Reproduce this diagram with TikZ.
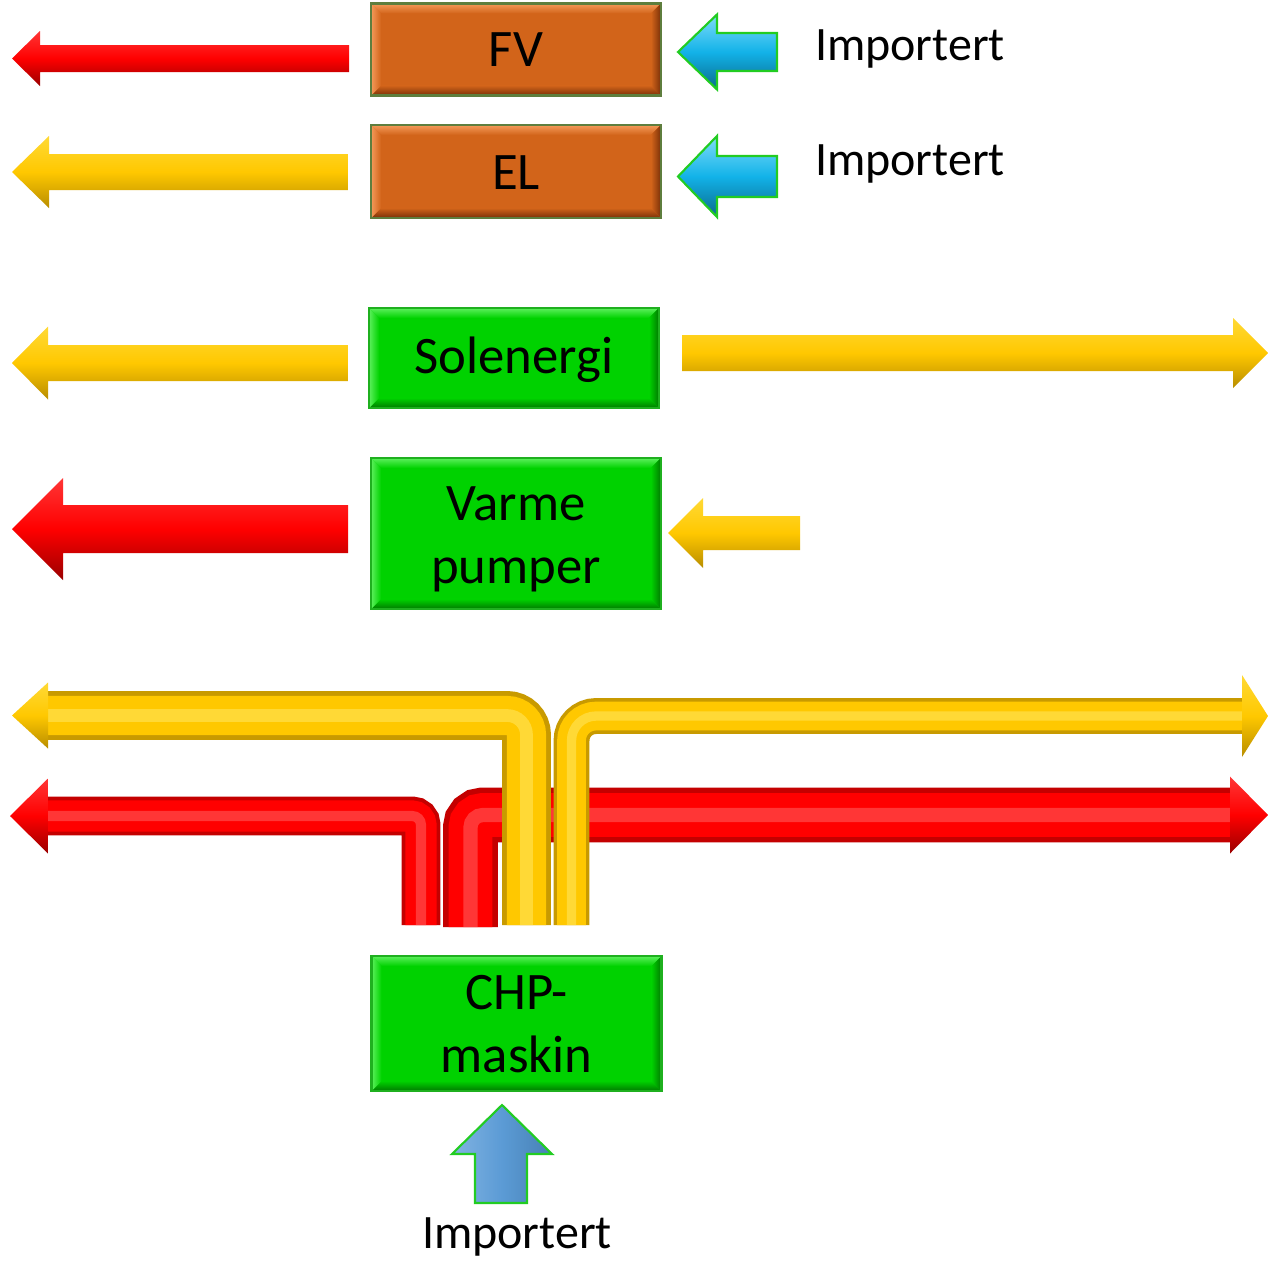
\documentclass[tikz,border=0pt]{standalone}
\usepackage{fontspec}
\setmainfont{Carlito}
\usetikzlibrary{calc}
\definecolor{orgF}{HTML}{D2641A}
\definecolor{orgL}{HTML}{F49A5A}
\definecolor{orgD}{HTML}{7A3008}
\definecolor{orgB}{HTML}{5E7E3E}
\definecolor{grnF}{HTML}{00D200}
\definecolor{grnL}{HTML}{5CF05C}
\definecolor{grnD}{HTML}{007A00}
\definecolor{grnB}{HTML}{1FB01F}
\definecolor{redF}{HTML}{FF0000}
\definecolor{redL}{HTML}{FF5A5A}
\definecolor{redD}{HTML}{9A0000}
\definecolor{redP}{HTML}{C40000}
\definecolor{yelF}{HTML}{FFC800}
\definecolor{yelL}{HTML}{FFE55A}
\definecolor{yelD}{HTML}{9A7400}
\definecolor{yelP}{HTML}{C89A00}
\definecolor{cyF}{HTML}{12B2E8}
\definecolor{cyL}{HTML}{7FDCFA}
\definecolor{cyD}{HTML}{0A6A8C}
\definecolor{arrB}{HTML}{22CC22}
\definecolor{blF}{HTML}{5B9BD5}
\definecolor{blL}{HTML}{9CC3EA}
\definecolor{blD}{HTML}{3A6E9E}

% block arrow: style, tip x, centre y, head base x, head half height, shaft half height, shaft end x
\newcommand{\blockarrow}[7]{\path[#1] (#2,#3) -- (#4,{#3-#5}) -- (#4,{#3-#6}) -- (#7,{#3-#6}) -- (#7,{#3+#6}) -- (#4,{#3+#6}) -- (#4,{#3+#5}) -- cycle;}
% arrow head only: style, tip x, centre y, base x, half height
\newcommand{\arrowhead}[5]{\path[#1] (#2,#3) -- (#4,{#3-#5}) -- (#4,{#3+#5}) -- cycle;}
% pipe: path, width, radius, base, dark, light
\newcommand{\pipe}[6]{%
 \draw[#5, line width=#2, rounded corners=#3] #1;
 \draw[#4, line width={0.8*#2}, rounded corners=#3] #1;
 \draw[#6, line width={0.26*#2}, rounded corners=#3, opacity=0.6] #1;}
% bevel on a box: node, base, light, dark, border
\newcommand{\bevel}[5]{%
 \shade[top color=#3, bottom color=#2] (#1.north west) -- (#1.north east) -- ($(#1.north east)+(-10,10)$) -- ($(#1.north west)+(10,10)$) -- cycle;
 \shade[top color=#2, bottom color=#4] ($(#1.south west)+(10,-10)$) -- ($(#1.south east)+(-10,-10)$) -- (#1.south east) -- (#1.south west) -- cycle;
 \shade[left color=#2, right color=#4] ($(#1.north east)+(-10,10)$) -- (#1.north east) -- (#1.south east) -- ($(#1.south east)+(-10,-10)$) -- cycle;
 \shade[left color=#3, right color=#2] (#1.north west) -- ($(#1.north west)+(10,10)$) -- ($(#1.south west)+(10,-10)$) -- (#1.south west) -- cycle;
 \draw[#5, line width=1.2pt] (#1.north west) rectangle (#1.south east);}
\newcommand{\lift}[1]{\rule{0pt}{#1}}

\begin{document}
\begin{tikzpicture}[x=0.02cm, y=-0.02cm,
  box/.style={draw, line width=1.2pt, inner sep=0pt, outer sep=0pt, align=center,
    font=\fontsize{30}{35.6}\selectfont, text=black, minimum width=5.8cm},
  obox/.style={box, fill=orgF, draw=orgB},
  gbox/.style={box, fill=grnF, draw=grnB},
  lbl/.style={font=\fontsize{27.3}{30}\selectfont, anchor=base, inner sep=0pt, text=black},
  redA/.style={top color=redL!60!redF, bottom color=redD, middle color=redF},
  yelA/.style={top color=yelL!60!yelF, bottom color=yelD!70!yelF, middle color=yelF},
  cyA/.style={top color=cyL, bottom color=cyD, middle color=cyF, draw=arrB, line width=1.2pt},
  blA/.style={left color=blL!60!blF, right color=blD!60!blF, middle color=blF, draw=arrB, line width=1.2pt}]

\fill[white] (0,0) rectangle (1268,1261);
\useasboundingbox (0,0) rectangle (1268,1261);

% boxes
\node[obox, minimum height=1.84cm] (fv) at (516,49.5) {\lift{19.8pt}FV};
\bevel{fv}{orgF}{orgL}{orgD}{orgB}
\node[obox, minimum height=1.86cm] (el) at (516,171.5) {\lift{21pt}EL};
\bevel{el}{orgF}{orgL}{orgD}{orgB}
\node[gbox, minimum height=2cm] (sol) at (514,358) {\lift{23pt}Solenergi};
\bevel{sol}{grnF}{grnL}{grnD}{grnB}
\node[gbox, minimum height=3.02cm] (vp) at (516,533.5) {\lift{25.7pt}Varme\\pumper};
\bevel{vp}{grnF}{grnL}{grnD}{grnB}
\node[gbox, minimum height=2.7cm] (chp) at (516.5,1023.5) {\lift{20.2pt}CHP-\\maskin};
\bevel{chp}{grnF}{grnL}{grnD}{grnB}

% labels
\node[lbl] (imp1) at (910,60) {Importert};
\node[lbl] (imp2) at (910,175) {Importert};
\node[lbl] (imp3) at (517,1248) {Importert};

% straight block arrows
\blockarrow{redA}{12}{58.5}{40}{27.5}{13.5}{349}
\blockarrow{yelA}{12}{172}{49}{36}{18}{348}
\blockarrow{cyA}{678}{52}{717}{37.5}{19}{777}
\blockarrow{cyA}{678}{176.5}{717}{40.5}{20.5}{777}
\blockarrow{yelA}{12}{363}{48}{36.5}{18}{348}
\blockarrow{yelA}{1268}{353}{1233}{35}{18}{682}
\blockarrow{redA}{12}{529}{63}{51}{24}{348}
\blockarrow{yelA}{668}{533}{703}{35}{17}{800}

% pipes from the CHP machine
\pipe{(46,816) -- (421,816) -- (421,925)}{22.1pt}{5pt}{redF}{redP}{redL}
\pipe{(470.5,927) -- (470.5,815) -- (1232,815)}{31.2pt}{7pt}{redF}{redP}{redL}
\arrowhead{redA}{10}{816}{48}{37.5}
\arrowhead{redA}{1268}{815}{1230}{38.5}
\pipe{(46,715.5) -- (526.5,715.5) -- (526.5,925)}{27.8pt}{11pt}{yelF}{yelP}{yelL}
\pipe{(571.5,925) -- (571.5,716) -- (1244,716)}{20.4pt}{14pt}{yelF}{yelP}{yelL}
\arrowhead{yelA}{12}{715.5}{48}{33}
\arrowhead{yelA}{1268}{716}{1242}{41}

% imported fuel into CHP
\path[blA] (502,1105) -- (552,1154) -- (527,1154) -- (527,1203) -- (475,1203) -- (475,1154) -- (452,1154) -- cycle;
\end{tikzpicture}
\end{document}
